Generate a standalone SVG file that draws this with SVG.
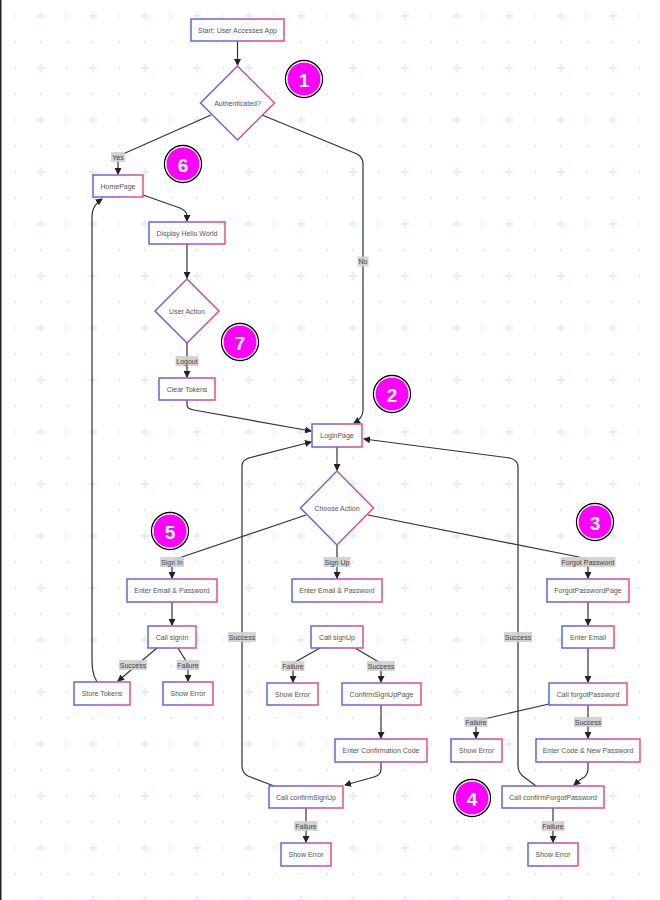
<svg xmlns="http://www.w3.org/2000/svg" width="660" height="900" viewBox="0 0 660 900">
  <defs>
    <pattern id="grid" patternUnits="userSpaceOnUse" x="0" y="0" width="52" height="52">
      <circle cx="15" cy="16" r="1" fill="#d6ebee"/>
      <circle cx="15" cy="42" r="1" fill="#d6ebee"/>
      <circle cx="41" cy="42" r="1" fill="#d6ebee"/>
      <path d="M37,16 H45 M41,12 V20" stroke="#d8edf0" stroke-width="1.3"/>
    </pattern>
    <linearGradient id="edge" x1="0" y1="0" x2="1" y2="0">
      <stop offset="0" stop-color="#5468f4"/>
      <stop offset="0.5" stop-color="#9a55cc"/>
      <stop offset="1" stop-color="#f24a78"/>
    </linearGradient>
    <marker id="arrow" markerUnits="userSpaceOnUse" markerWidth="7" markerHeight="7" refX="6" refY="3.5" orient="auto">
      <path d="M0,0 L7,3.5 L0,7 z" fill="#222"/>
    </marker>
  </defs>
  <style>
    .node rect, .node polygon { fill: #ffffff; stroke: url(#edge); stroke-width: 1.5; }
    .node text { font-family: "Liberation Sans", Arial, sans-serif; font-size: 7px; fill: #555; text-anchor: middle; dominant-baseline: central; }
    .links path { fill: none; stroke: #333; stroke-width: 1.2; marker-end: url(#arrow); }
    .tag rect { fill: #cfcfcf; opacity: 0.9; }
    .tag text { font-family: "Liberation Sans", Arial, sans-serif; font-size: 7px; fill: #444; text-anchor: middle; dominant-baseline: central; }
    .badge .ring { fill: none; stroke: #000; stroke-width: 1.3; }
    .badge .disc { fill: #ff00ff; stroke: #fff; stroke-width: 1; }
    .badge text { font-family: "Liberation Sans", Arial, sans-serif; font-size: 19px; font-weight: bold; fill: #fff; text-anchor: middle; dominant-baseline: central; }
  </style>

  <!-- canvas -->
  <rect width="660" height="900" fill="#ffffff"/>
  <rect width="660" height="900" fill="url(#grid)"/>
  <rect x="0" y="0" width="1.5" height="900" fill="#222"/>

  <!-- connectors -->
  <g id="links" class="links">
    <path d="M237.5,41 L237.5,65"/>
    <path d="M211,115 L123,154 Q118,156 118,161 L118,174"/>
    <path d="M262,115 L357,154 Q363,157 363,164 L363,410 Q363,418 354,423"/>
    <path d="M143,195 L180,208 Q187,211 187,216 L187,221"/>
    <path d="M187,244 L187,278"/>
    <path d="M187,343 L187,377"/>
    <path d="M187,400 L187,405 Q187,409 194,410 L311,431"/>
    <path d="M337,447 L337,470"/>
    <path d="M306,515 L179,558 Q172,561 172,566 L172,578"/>
    <path d="M337,545 L337,578"/>
    <path d="M368,515 L579,557 Q588,560 588,566 L588,578"/>
    <path d="M172,602 L172,625"/>
    <path d="M157,648 L118,681"/>
    <path d="M178,648 L186,661 Q188,665 188,669 L188,681"/>
    <path d="M97,682 C92,674 92,666 92,655 L92,216 C92,208 96,203 102,199"/>
    <path d="M320,648 L297,661 Q293,664 293,668 L293,682"/>
    <path d="M355,648 L377,661 Q381,664 381,668 L381,682"/>
    <path d="M381,705 L381,738"/>
    <path d="M381,762 L381,769 Q381,775 374,777 L345,785"/>
    <path d="M274,786 L248,776 Q242,773 242,766 L242,466 Q242,460 249,458 L311,442"/>
    <path d="M306,808 L306,842"/>
    <path d="M588,602 L588,625"/>
    <path d="M588,648 L588,682"/>
    <path d="M549,704 L484,719 Q476,721 476,727 L476,738"/>
    <path d="M588,705 L588,738"/>
    <path d="M588,762 L588,769 Q588,776 581,779 L574,785"/>
    <path d="M536,786 L524,777 Q518,773 518,765 L518,467 Q518,460 510,458 L364,439"/>
    <path d="M553,808 L553,842"/>
  </g>

  <!-- connector labels -->
  <g id="labels">
    <g class="tag"><rect x="111" y="152" width="14" height="10"/><text x="118" y="157">Yes</text></g>
    <g class="tag"><rect x="357.5" y="256.5" width="11" height="10"/><text x="363" y="261.5">No</text></g>
    <g class="tag"><rect x="175.5" y="356" width="23" height="10"/><text x="187" y="361">Logout</text></g>
    <g class="tag"><rect x="160" y="557" width="24" height="10"/><text x="172" y="562">Sign In</text></g>
    <g class="tag"><rect x="323.5" y="557" width="27" height="10"/><text x="337" y="562">Sign Up</text></g>
    <g class="tag"><rect x="560.5" y="557" width="55" height="10"/><text x="588" y="562">Forgot Password</text></g>
    <g class="tag"><rect x="119" y="660" width="28" height="10"/><text x="133" y="665">Success</text></g>
    <g class="tag"><rect x="176.5" y="660" width="23" height="10"/><text x="188" y="665">Failure</text></g>
    <g class="tag"><rect x="228" y="632" width="28" height="10"/><text x="242" y="637">Success</text></g>
    <g class="tag"><rect x="281.5" y="661" width="23" height="10"/><text x="293" y="666">Failure</text></g>
    <g class="tag"><rect x="367" y="661" width="28" height="10"/><text x="381" y="666">Success</text></g>
    <g class="tag"><rect x="464.5" y="717" width="23" height="10"/><text x="476" y="722">Failure</text></g>
    <g class="tag"><rect x="574" y="717" width="28" height="10"/><text x="588" y="722">Success</text></g>
    <g class="tag"><rect x="504" y="632" width="28" height="10"/><text x="518" y="637">Success</text></g>
    <g class="tag"><rect x="294.5" y="821" width="23" height="10"/><text x="306" y="826">Failure</text></g>
    <g class="tag"><rect x="541.5" y="821" width="23" height="10"/><text x="553" y="826">Failure</text></g>
  </g>

  <!-- nodes -->
  <g id="start" class="node"><rect x="191" y="19" width="93" height="22"/><text x="237.5" y="30">Start: User Accesses App</text></g>
  <g id="authenticated" class="node"><polygon points="237.5,66 274.5,103 237.5,140 200.5,103"/><text x="237.5" y="103">Authenticated?</text></g>
  <g id="home" class="node"><rect x="93" y="175" width="50" height="22"/><text x="118" y="186">HomePage</text></g>
  <g id="hello" class="node"><rect x="149" y="222" width="76" height="22"/><text x="187" y="233">Display Hello World</text></g>
  <g id="user-action" class="node"><polygon points="187,279 219,311 187,343 155,311"/><text x="187" y="311">User Action</text></g>
  <g id="clear-tokens" class="node"><rect x="159" y="378" width="56" height="22"/><text x="187" y="389">Clear Tokens</text></g>
  <g id="login" class="node"><rect x="312" y="424" width="50" height="23"/><text x="337" y="435.5">LoginPage</text></g>
  <g id="choose-action" class="node"><polygon points="337,471 373.5,508 337,545 300.5,508"/><text x="337" y="508">Choose Action</text></g>

  <g id="signin-email" class="node"><rect x="127" y="579" width="90" height="23"/><text x="172" y="590.5">Enter Email &amp; Password</text></g>
  <g id="signin-call" class="node"><rect x="148" y="626" width="48" height="22"/><text x="172" y="637">Call signIn</text></g>
  <g id="store-tokens" class="node"><rect x="74" y="682" width="56" height="23"/><text x="102" y="693.5">Store Tokens</text></g>
  <g id="signin-error" class="node"><rect x="163" y="682" width="50" height="23"/><text x="188" y="693.5">Show Error</text></g>

  <g id="signup-email" class="node"><rect x="292" y="579" width="90" height="23"/><text x="337" y="590.5">Enter Email &amp; Password</text></g>
  <g id="signup-call" class="node"><rect x="311" y="626" width="52" height="22"/><text x="337" y="637">Call signUp</text></g>
  <g id="signup-error" class="node"><rect x="267" y="683" width="51" height="22"/><text x="292.5" y="694">Show Error</text></g>
  <g id="confirm-signup-page" class="node"><rect x="342" y="683" width="79" height="22"/><text x="381.5" y="694">ConfirmSignUpPage</text></g>
  <g id="confirm-code" class="node"><rect x="335" y="739" width="92" height="23"/><text x="381" y="750.5">Enter Confirmation Code</text></g>
  <g id="confirm-signup-call" class="node"><rect x="269" y="786" width="74" height="22"/><text x="306" y="797">Call confirmSignUp</text></g>
  <g id="confirm-signup-error" class="node"><rect x="281" y="843" width="50" height="23"/><text x="306" y="854.5">Show Error</text></g>

  <g id="forgot-page" class="node"><rect x="547" y="579" width="82" height="23"/><text x="588" y="590.5">ForgotPasswordPage</text></g>
  <g id="forgot-email" class="node"><rect x="562" y="626" width="52" height="22"/><text x="588" y="637">Enter Email</text></g>
  <g id="forgot-call" class="node"><rect x="549" y="683" width="78" height="22"/><text x="588" y="694">Call forgotPassword</text></g>
  <g id="forgot-error" class="node"><rect x="451" y="739" width="51" height="23"/><text x="476.5" y="750.5">Show Error</text></g>
  <g id="new-password" class="node"><rect x="536" y="739" width="104" height="23"/><text x="588" y="750.5">Enter Code &amp; New Password</text></g>
  <g id="confirm-forgot-call" class="node"><rect x="502" y="786" width="102" height="22"/><text x="553" y="797">Call confirmForgotPassword</text></g>
  <g id="confirm-forgot-error" class="node"><rect x="528" y="843" width="50" height="23"/><text x="553" y="854.5">Show Error</text></g>

  <!-- numbered markers -->
  <g id="badges">
    <g class="badge"><circle class="ring" cx="304" cy="79" r="18.5"/><circle class="disc" cx="304" cy="79" r="17"/><text x="304" y="80">1</text></g>
    <g class="badge"><circle class="ring" cx="392" cy="394" r="18.5"/><circle class="disc" cx="392" cy="394" r="17"/><text x="392" y="395">2</text></g>
    <g class="badge"><circle class="ring" cx="595" cy="522" r="18.5"/><circle class="disc" cx="595" cy="522" r="17"/><text x="595" y="523">3</text></g>
    <g class="badge"><circle class="ring" cx="472" cy="798" r="18.5"/><circle class="disc" cx="472" cy="798" r="17"/><text x="472" y="799">4</text></g>
    <g class="badge"><circle class="ring" cx="170" cy="531" r="18.5"/><circle class="disc" cx="170" cy="531" r="17"/><text x="170" y="532">5</text></g>
    <g class="badge"><circle class="ring" cx="183" cy="164" r="18.5"/><circle class="disc" cx="183" cy="164" r="17"/><text x="183" y="165">6</text></g>
    <g class="badge"><circle class="ring" cx="240" cy="342" r="18.5"/><circle class="disc" cx="240" cy="342" r="17"/><text x="240" y="343">7</text></g>
  </g>
</svg>
